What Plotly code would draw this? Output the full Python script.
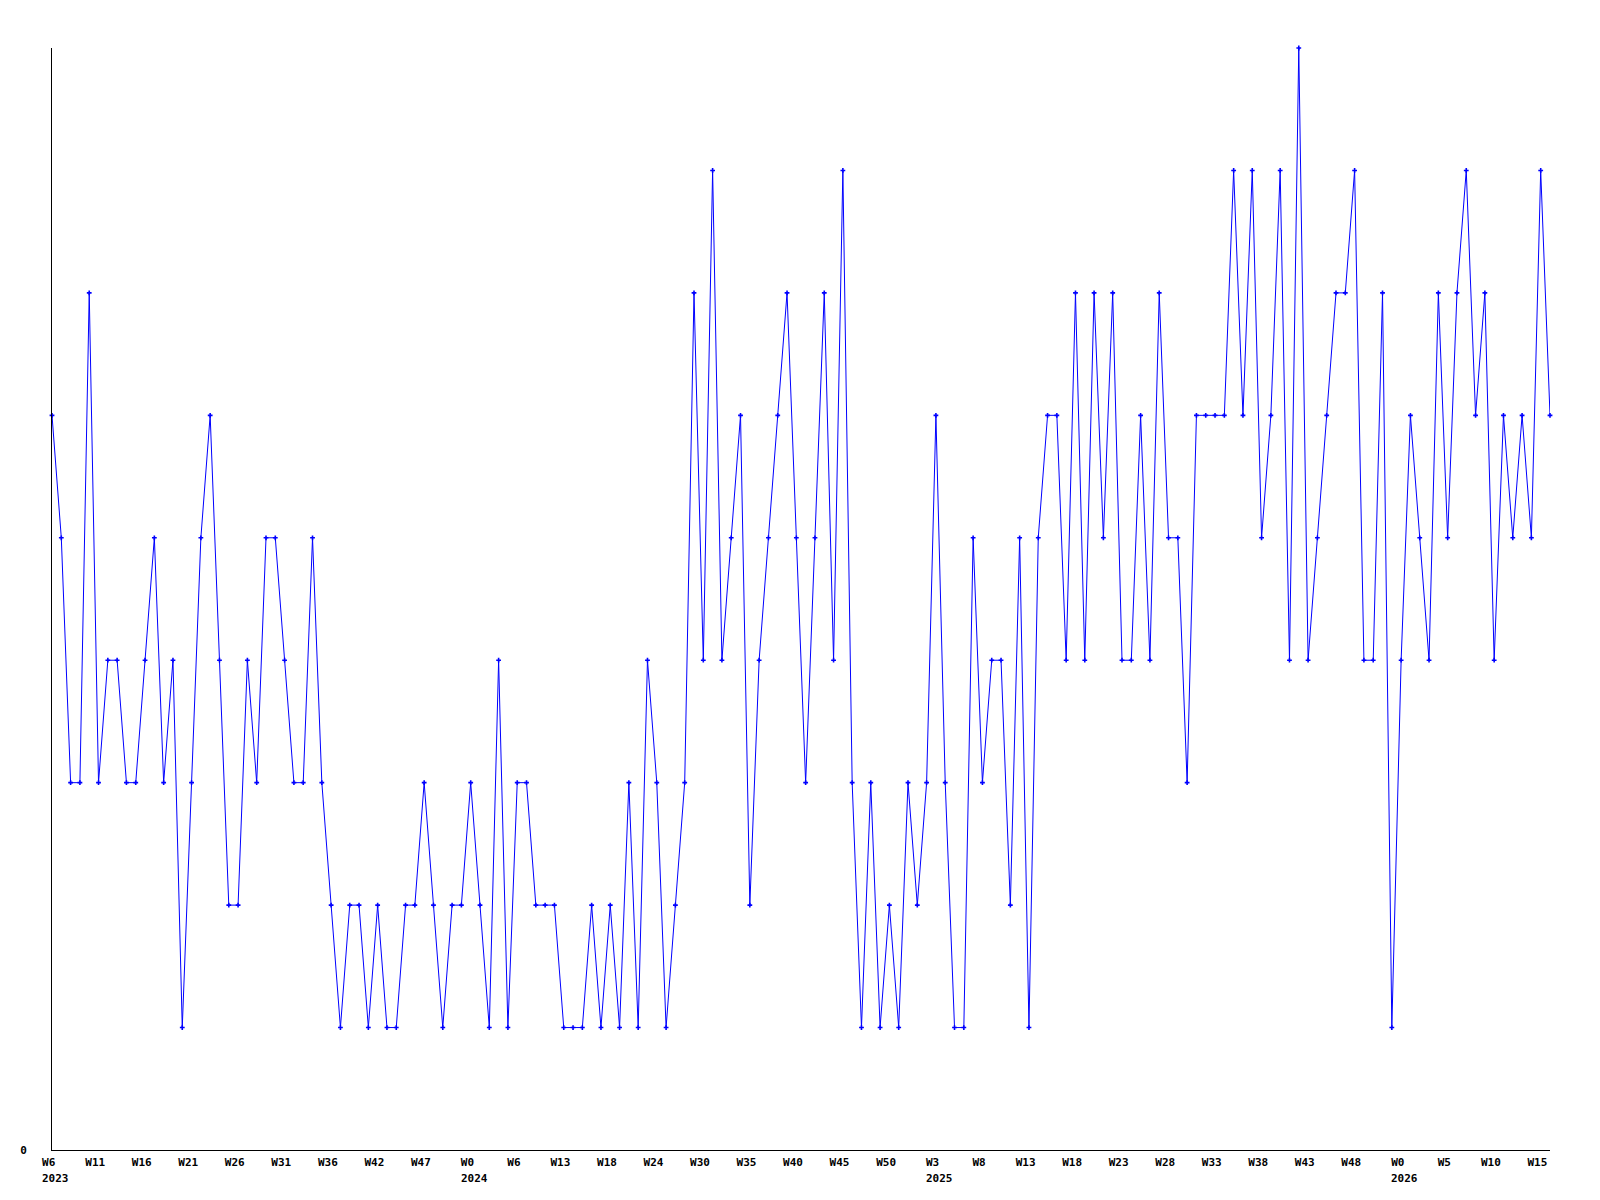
import plotly.graph_objects as go

# Weekly values (one point per week, starting 2023 W6)
values = [
    6, 5, 3, 3, 7, 3, 4, 4, 3, 3,
    4, 5, 3, 4, 1, 3, 5, 6, 4, 2,
    2, 4, 3, 5, 5, 4, 3, 3, 5, 3,
    2, 1, 2, 2, 1, 2, 1, 1, 2, 2,
    3, 2, 1, 2, 2, 3, 2, 1, 4, 1,
    3, 3, 2, 2, 2, 1, 1, 1, 2, 1,
    2, 1, 3, 1, 4, 3, 1, 2, 3, 7,
    4, 8, 4, 5, 6, 2, 4, 5, 6, 7,
    5, 3, 5, 7, 4, 8, 3, 1, 3, 1,
    2, 1, 3, 2, 3, 6, 3, 1, 1, 5,
    3, 4, 4, 2, 5, 1, 5, 6, 6, 4,
    7, 4, 7, 5, 7, 4, 4, 6, 4, 7,
    5, 5, 3, 6, 6, 6, 6, 8, 6, 8,
    5, 6, 8, 4, 9, 4, 5, 6, 7, 7,
    8, 4, 4, 7, 1, 4, 6, 5, 4, 7,
    5, 7, 8, 6, 7, 4, 6, 5, 6, 5,
    8, 6,
]
weeks = list(range(len(values)))

# Tick labels: every 5th week
tick_weeks = list(range(0, 161, 5))
tick_labels = ["W6", "W11", "W16", "W21", "W26", "W31", "W36", "W42", "W47",
               "W0", "W6", "W13", "W18", "W24", "W30", "W35", "W40", "W45",
               "W50", "W3", "W8", "W13", "W18", "W23", "W28", "W33", "W38",
               "W43", "W48", "W0", "W5", "W10", "W15"]
year_weeks = [0, 45, 95, 145]
year_labels = ["2023", "2024", "2025", "2026"]

FONT = dict(family="DejaVu Sans Mono", size=11, color="black", weight="bold")

fig = go.Figure()
fig.add_trace(go.Scatter(
    x=weeks, y=values, mode="lines+markers",
    line=dict(color="#0000ff", width=1),
    marker=dict(symbol="cross", size=4, color="#0000ff", line=dict(width=0)),
    cliponaxis=False, showlegend=False,
))

for w, t in zip(year_weeks, year_labels):
    fig.add_annotation(x=w, y=0, xref="x", yref="paper", text=t,
                       showarrow=False, xanchor="left", yanchor="top",
                       xshift=-12, yshift=-20, font=FONT)

# page body has an 8px margin, so figure is sized/offset to compensate
fig.update_layout(
    width=1592, height=1192,
    margin=dict(l=42, r=50, t=40, b=50),
    paper_bgcolor="white", plot_bgcolor="white",
    font=FONT,
)
fig.update_xaxes(
    range=[0, 161], showgrid=False, zeroline=False,
    showline=True, linecolor="black", linewidth=1,
    tickmode="array", tickvals=tick_weeks,
    ticktext=[t + "\u00a0" for t in tick_labels],
    ticks="", tickfont=FONT, ticklabelstandoff=2,
)
fig.update_yaxes(
    range=[0, 9], showgrid=False, zeroline=False,
    showline=True, linecolor="black", linewidth=1,
    tickmode="array", tickvals=[0], ticktext=["0"],
    ticks="", tickfont=FONT, ticklabelstandoff=22,
)

fig.write_html("out.html")
